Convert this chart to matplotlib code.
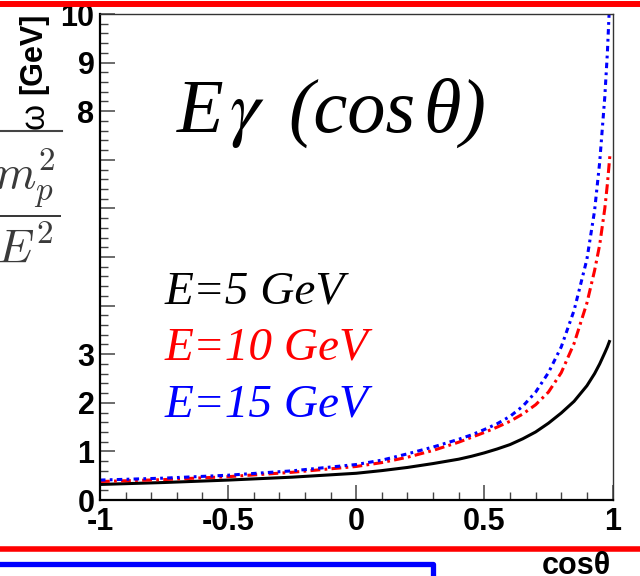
import numpy as np
import matplotlib
matplotlib.use('Agg')
import matplotlib.pyplot as plt
from matplotlib.lines import Line2D

# values (cos theta -> E_gamma in GeV)
cos_theta = [-1, -0.75, -0.5, -0.25, 0, 0.1, 0.2, 0.3, 0.4, 0.45, 0.5, 0.55, 0.6, 0.65,
             0.7, 0.75, 0.8, 0.85, 0.9, 0.93, 0.95, 0.97, 0.98, 0.99]
eg_5 = [0.32, 0.36, 0.41, 0.47, 0.55, 0.605, 0.67, 0.75, 0.84, 0.90, 0.97, 1.05, 1.14, 1.26,
        1.40, 1.58, 1.79, 2.03, 2.35, 2.60, 2.80, 3.03, 3.15, 3.29]
eg_10 = [0.38, 0.42, 0.48, 0.57, 0.69, 0.77, 0.88, 1.02, 1.19, 1.29, 1.39, 1.50, 1.62, 1.77,
         1.96, 2.22, 2.62, 3.22, 4.05, 4.72, 5.25, 6.00, 6.50, 7.10]
eg_15 = [0.41, 0.45, 0.51, 0.60, 0.73, 0.82, 0.95, 1.09, 1.25, 1.34, 1.45, 1.57, 1.72, 1.93,
         2.22, 2.62, 3.15, 3.90, 4.95, 5.95, 6.95, 8.30, 9.20, 10.4]

labels = ['E=5 GeV', 'E=10 GeV', 'E=15 GeV']
colors = ['black', '#ff0000', '#0000ff']

xticks = [-1, -0.5, 0, 0.5, 1]
xtick_labels = ['-1', '-0.5', '0', '0.5', '1']
yticks = list(range(0, 11))
ytick_labels = ['0', '1', '2', '3', '', '', '', '', '8', '9', '10']

W, H = 640, 576
fig = plt.figure(figsize=(W / 100, H / 100), dpi=100)
fig.patch.set_facecolor('white')

ax = fig.add_axes([100 / W, 76 / H, 512.5 / W, 486 / H])
ax.plot(cos_theta, eg_5, color=colors[0], lw=2.2, solid_capstyle='butt')
ax.plot(cos_theta, eg_10, color=colors[1], lw=2.2, dashes=(3.2, 1.4, 0.9, 1.4))
ax.plot(cos_theta, eg_15, color=colors[2], lw=2.2, dashes=(1.8, 1.4, 0.9, 1.4))
ax.set_xlim(-1, 1)
ax.set_ylim(0, 10)

for s in ['left', 'bottom']:
    ax.spines[s].set_linewidth(1.6)
    ax.spines[s].set_color('black')
for s in ['top', 'right']:
    ax.spines[s].set_linewidth(1.0)
    ax.spines[s].set_color('#333333')

ax.set_xticks(xticks)
ax.set_xticklabels(xtick_labels)
ax.set_yticks(yticks)
ax.set_yticklabels(ytick_labels)
ax.set_xticks(np.arange(-1, 1.001, 0.1), minor=True)
ax.set_yticks(np.arange(0, 10.001, 0.2), minor=True)
ax.tick_params(which='major', direction='in', length=10.5, width=1.1, color='#444444')
ax.tick_params(which='minor', direction='in', length=5.5, width=1.0, color='#444444')
ax.tick_params(axis='x', which='major', pad=5)
ax.tick_params(axis='y', which='major', pad=4)
for t in ax.get_xticklabels() + ax.get_yticklabels():
    t.set_fontfamily('Liberation Sans')
    t.set_fontweight('bold')
    t.set_fontsize(22)

# big title inside the frame
title_kw = dict(fontfamily='Liberation Serif', style='italic', fontsize=55,
                va='baseline', ha='left')
fig.text(177 / W, 1 - 131.7 / H, 'E', **title_kw)
fig.text(229 / W, 1 - 131.7 / H, r'$\gamma$', math_fontfamily='stix', fontsize=55,
         va='baseline', ha='left')
fig.text(288 / W, 1 - 131.7 / H, '(cos', **title_kw)
fig.text(423 / W, 1 - 131.7 / H, 'θ)', **title_kw)

# legend-like labels
for i, lab in enumerate(labels):
    fig.text(165 / W, 1 - (303 + 56.8 * i) / H, lab, color=colors[i],
             fontfamily='Liberation Serif', style='italic', fontsize=34,
             va='baseline', ha='left')

# y axis title and overlapping formula piece
fig.text(33 / W, 1 - 53 / H, '[GeV]', rotation=90, fontfamily='Liberation Sans',
         fontweight='bold', fontsize=22, ha='center', va='center')
fig.text(35 / W, 1 - 116 / H, 'ω', rotation=90, fontfamily='Liberation Sans',
         fontsize=24, ha='center', va='center')
fig.add_artist(Line2D([0, 62 / W], [1 - 131 / H] * 2, color='#444444', lw=1.5,
                      transform=fig.transFigure))
fig.text(60 / W, 1 - 205 / H, r'$\dfrac{m_p^2}{E^2}$', math_fontfamily='cm',
         color='#3a3a3a', fontsize=34, ha='right', va='center')

# x axis title below the frame
fig.text(611 / W, 1 - 574 / H, 'cosθ', fontfamily='Liberation Sans', fontweight='bold',
         fontsize=22, ha='right', va='baseline')

# coloured frame lines of the surrounding page
fig.add_artist(Line2D([0, 1], [1 - 4 / H] * 2, color='#ff0000', lw=4.3,
                      transform=fig.transFigure))
fig.add_artist(Line2D([0, 1], [1 - 549 / H] * 2, color='#ff0000', lw=4.0,
                      transform=fig.transFigure))
fig.add_artist(Line2D([0, 433 / W, 433 / W], [1 - 564 / H, 1 - 564 / H, -0.01],
                      color='#0000ff', lw=3.8, solid_joinstyle='round',
                      transform=fig.transFigure))

fig.savefig('out.png', dpi=100)
